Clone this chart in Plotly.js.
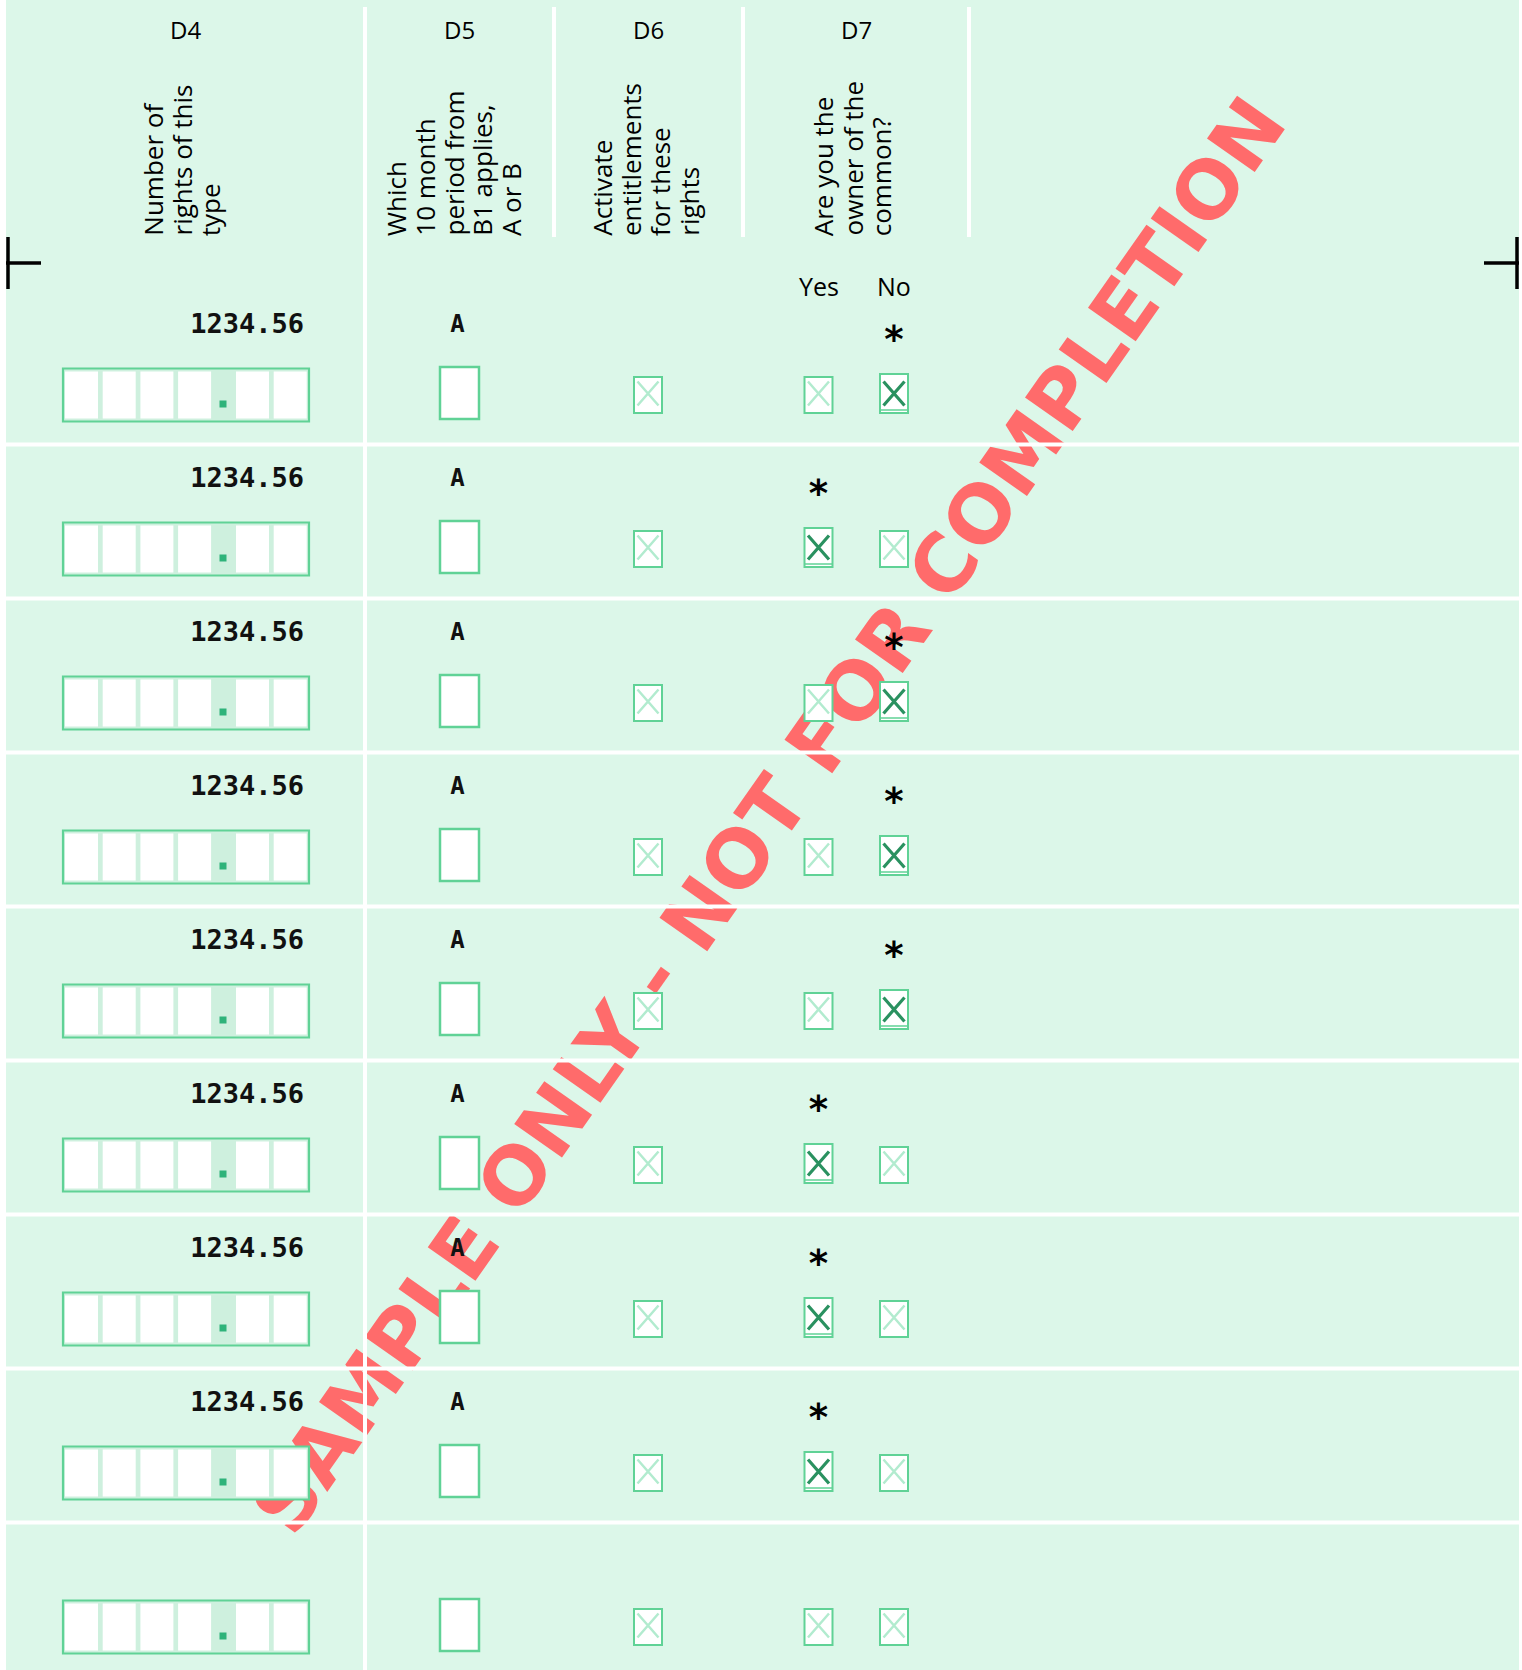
<!DOCTYPE html>
<html><head><meta charset="utf-8">
<script src="https://cdn.plot.ly/plotly-3.0.1.min.js"></script>
<style>html,body{margin:0;padding:0;background:#fff}#chart{width:1522px;height:1670px}</style>
</head><body><div id="chart"></div>
<script>
// ---------------- data ----------------
const columnCodes = ["D4", "D5", "D6", "D7"];
const columnQuestions = [
  ["Number of", "rights of this", "type"],
  ["Which", "10 month", "period from", "B1 applies,", "A or B"],
  ["Activate", "entitlements", "for these", "rights"],
  ["Are you the", "owner of the", "common?"]
];
const answerLabels = ["Yes", "No"];
const rightsNumbers = ["1234.56", "1234.56", "1234.56", "1234.56", "1234.56", "1234.56", "1234.56", "1234.56", ""];
const monthPeriods = ["A", "A", "A", "A", "A", "A", "A", "A", ""];
const activateEntitlements = [false, false, false, false, false, false, false, false, false];
const ownerOfCommon = ["No", "Yes", "No", "No", "No", "Yes", "Yes", "Yes", ""];
const watermarkText = "SAMPLE ONLY - NOT FOR COMPLETION";

// ---------------- geometry / style ----------------
const W = 1522, H = 1670;
const PAGE_L = 6, PAGE_R = 1519;
const ROW0 = 395, PITCH = 154;
const codeX = [185, 459, 648, 856];
const groupX = [181, 453, 645, 852];
const headerDividers = [365, 554, 743, 969];
const answerX = [818.5, 894];
const D5X = 459.5, D6X = 648;
const MINT = "#dcf7e9", SHADE = "#cef0de", GREEN = "#60d296", WHITE = "#ffffff";
const LIGHTX = "#b2ebcf", DARKX = "#2a9160", DOT = "#2fb37a", RED = "#ff6b6b";
const HFONT = "Open Sans, Noto Sans, sans-serif";
const MONO = "DejaVu Sans Mono, monospace";

const rowCenter = i => ROW0 + i * PITCH;
const shapes = [];
const annotations = [];

// watermark (drawn behind everything)
(function () {
  const cx = 764, cy = 812, ang = 54.9 * Math.PI / 180, L = 900;
  shapes.push({
    type: "line", layer: "below",
    x0: cx - L * Math.cos(ang), y0: cy + L * Math.sin(ang),
    x1: cx + L * Math.cos(ang), y1: cy - L * Math.sin(ang),
    line: { color: "rgba(0,0,0,0)", width: 0 },
    label: {
      text: watermarkText, textangle: -54.9, textposition: "middle",
      xanchor: "center", yanchor: "middle", padding: 0,
      font: { family: "DejaVu Sans, sans-serif", size: 80, color: RED, weight: "bold" }
    }
  });
})();

// header dividers
headerDividers.forEach((x, k) => {
  shapes.push({ type: "line", layer: "below", x0: x, x1: x, y0: 7, y1: k === 0 ? H : 237,
    line: { color: WHITE, width: 4 } });
});
// row separators
for (let i = 0; i < rightsNumbers.length - 1; i++) {
  const y = rowCenter(i) + 49.5;
  shapes.push({ type: "line", layer: "below", x0: PAGE_L, x1: PAGE_R, y0: y, y1: y,
    line: { color: WHITE, width: 4 } });
}
// crop marks
[[8, 6, 41], [1517, 1484, 1519]].forEach(([vx, hx0, hx1]) => {
  shapes.push({ type: "line", layer: "below", x0: vx, x1: vx, y0: 237, y1: 289, line: { color: "#000", width: 3.5 } });
  shapes.push({ type: "line", layer: "below", x0: hx0, x1: hx1, y0: 263, y1: 263, line: { color: "#000", width: 3.5 } });
});

function checkbox(cx, cy, checked) {
  shapes.push({ type: "rect", layer: "below", x0: cx - 14, x1: cx + 14, y0: cy - (checked ? 21 : 18), y1: cy + 18,
    fillcolor: WHITE, line: { color: GREEN, width: 2 } });
  if (checked) {
    shapes.push({ type: "line", layer: "below", x0: cx - 14, x1: cx + 14, y0: cy + 15, y1: cy + 15,
      line: { color: GREEN, width: 1.5 } });
  }
  const dx = 10.5, dy = 12;
  shapes.push({ type: "path", layer: "below",
    path: `M${cx - dx},${cy - dy - 1.5}L${cx + dx},${cy + dy - 1.5}M${cx + dx},${cy - dy - 1.5}L${cx - dx},${cy + dy - 1.5}`,
    line: { color: checked ? DARKX : LIGHTX, width: checked ? 3.2 : 2.5 } });
}

// rows
rightsNumbers.forEach((v, i) => {
  const cy = rowCenter(i);
  // D4 number box
  shapes.push({ type: "rect", layer: "below", x0: 63, x1: 309, y0: cy - 26.5, y1: cy + 26.5,
    fillcolor: SHADE, line: { width: 0 } });
  for (let c = 0; c < 4; c++) {
    const x0 = 65 + c * 37.7;
    shapes.push({ type: "rect", layer: "below", x0: x0, x1: x0 + 33, y0: cy - 23.5, y1: cy + 23.5,
      fillcolor: WHITE, line: { width: 0 } });
  }
  for (let c = 0; c < 2; c++) {
    const x0 = 236 + c * 37.7;
    shapes.push({ type: "rect", layer: "below", x0: x0, x1: x0 + 33, y0: cy - 23.5, y1: cy + 23.5,
      fillcolor: WHITE, line: { width: 0 } });
  }
  shapes.push({ type: "rect", layer: "below", x0: 219.5, x1: 226.5, y0: cy + 5.5, y1: cy + 12.5,
    fillcolor: DOT, line: { width: 0 } });
  shapes.push({ type: "rect", layer: "below", x0: 63, x1: 309, y0: cy - 26.5, y1: cy + 26.5,
    fillcolor: "rgba(0,0,0,0)", line: { color: GREEN, width: 2.2 } });
  // D5 box
  shapes.push({ type: "rect", layer: "below", x0: D5X - 19.5, x1: D5X + 19.5, y0: cy - 28, y1: cy + 24,
    fillcolor: WHITE, line: { color: GREEN, width: 2.5 } });
  // D6 checkbox
  checkbox(D6X, cy, activateEntitlements[i]);
  // D7 yes / no
  answerLabels.forEach((lab, k) => checkbox(answerX[k], cy, ownerOfCommon[i] === lab));
});

// header annotations
columnCodes.forEach((code, c) => {
  annotations.push({ x: codeX[c], y: 29, text: code, showarrow: false, xanchor: "center", yanchor: "middle",
    font: { family: HFONT, size: 24, color: "#000" } });
  const lines = columnQuestions[c], n = lines.length;
  lines.forEach((t, j) => {
    annotations.push({ x: groupX[c] + (j - (n - 1) / 2) * 28.8, y: 237, text: t, showarrow: false,
      textangle: -90, xanchor: "center", yanchor: "bottom", borderpad: 0,
      font: { family: HFONT, size: 26, color: "#000" } });
  });
});
answerLabels.forEach((lab, k) => {
  annotations.push({ x: answerX[k], y: 286, text: lab, showarrow: false, xanchor: "center", yanchor: "middle",
    font: { family: HFONT, size: 25, color: "#000" } });
});

// traces: typed values
const idx = rightsNumbers.map((_, i) => i);
const traces = [
  { type: "scatter", mode: "text", x: idx.map(() => 304), y: idx.map(i => rowCenter(i) - 69),
    text: rightsNumbers, textposition: "middle left", hoverinfo: "skip",
    textfont: { family: MONO, size: 27, color: "#111", weight: "bold" } },
  { type: "scatter", mode: "text", x: idx.map(() => 457.5), y: idx.map(i => rowCenter(i) - 69),
    text: monthPeriods, textposition: "middle center", hoverinfo: "skip",
    textfont: { family: MONO, size: 24, color: "#111", weight: "bold" } },
  { type: "scatter", mode: "text",
    x: idx.map(i => ownerOfCommon[i] === "" ? null : answerX[answerLabels.indexOf(ownerOfCommon[i])]),
    y: idx.map(i => rowCenter(i) - 52),
    text: ownerOfCommon.map(a => a === "" ? "" : "*"), textposition: "middle center", hoverinfo: "skip",
    textfont: { family: "DejaVu Sans, sans-serif", size: 37, color: "#000", weight: "bold" } }
];

const layout = {
  width: W, height: H,
  margin: { l: PAGE_L, r: W - PAGE_R, t: 0, b: 0, pad: 0 },
  paper_bgcolor: WHITE, plot_bgcolor: MINT,
  xaxis: { range: [PAGE_L, PAGE_R], visible: false, fixedrange: true },
  yaxis: { range: [H, 0], visible: false, fixedrange: true },
  showlegend: false, shapes: shapes, annotations: annotations
};
Plotly.newPlot("chart", traces, layout, { staticPlot: true, displayModeBar: false });
</script></body></html>
